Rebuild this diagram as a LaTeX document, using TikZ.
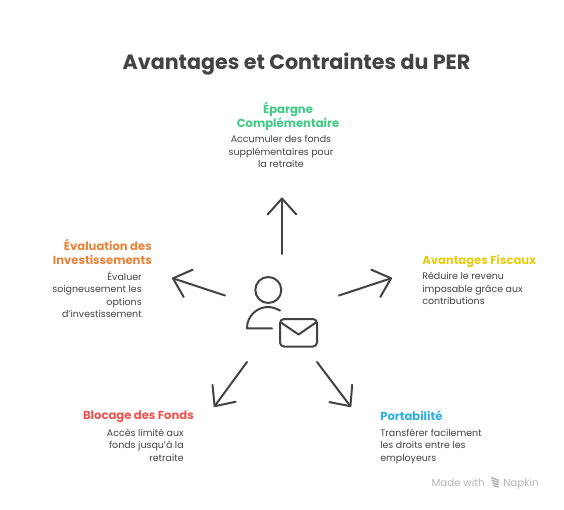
\documentclass[tikz,border=0pt]{standalone}
\usepackage{fontspec}
\setmainfont{Poppins}
\usepackage{xcolor}
\usetikzlibrary{arrows.meta,positioning}
\definecolor{perink}{HTML}{434343}
\definecolor{pergreen}{HTML}{3DCB85}
\definecolor{peryellow}{HTML}{E6CB12}
\definecolor{perorange}{HTML}{E8833A}
\definecolor{perred}{HTML}{EF5350}
\definecolor{perblue}{HTML}{2FAEE3}
\definecolor{pergrey}{HTML}{B4B4B4}
\newcommand{\pxfont}[2]{\fontsize{#1}{#2}\selectfont}

\begin{document}
\begin{tikzpicture}[
  x=0.75pt,y=-0.75pt,
  title/.style={inner sep=0pt,text=perink,font=\pxfont{15.5}{18}\bfseries},
  head/.style={inner sep=0pt,font=\pxfont{8.7}{10.4}\bfseries},
  body/.style={inner sep=0pt,text=perink,font=\pxfont{7.1}{9.4}},
  arr/.style={-{Straight Barb[length=12pt,width=21.5pt,line width=1.5pt,round]},line width=1.5pt,color=perink,line cap=round},
  icon/.style={line width=1.5pt,color=perink,line cap=round,line join=round}
]
\useasboundingbox (0,0) rectangle (564,510);
\node[title] (ttl) at (296.5,64) {Avantages et Contraintes du PER};

\node[head,text=pergreen,align=center] (eparhead) at (288,116) {Épargne\\Complémentaire};
\node[body,align=center,anchor=north] (eparbody) at (281,135) {Accumuler des fonds\\supplémentaires pour\\la retraite};

\node[head,text=peryellow,anchor=west] (fischead) at (422,261) {Avantages Fiscaux};
\node[body,align=left,anchor=north west] (fiscbody) at (422,272) {Réduire le revenu\\imposable grâce aux\\contributions};

\node[head,text=perorange,align=right,anchor=east] (evalhead) at (152,252) {Évaluation des\\Investissements};
\node[body,align=right,anchor=north east] (evalbody) at (142,271) {Évaluer\\soigneusement les\\options\\d'investissement};

\node[head,text=perred,anchor=east] (blochead) at (194,417) {Blocage des Fonds};
\node[body,align=right,anchor=north east] (blocbody) at (184,428.5) {Accès limité aux\\fonds jusqu'à la\\retraite};

\node[head,text=perblue,anchor=west] (porthead) at (380,416) {Portabilité};
\node[body,align=left,anchor=north west] (portbody) at (380,428.5) {Transférer facilement\\les droits entre les\\employeurs};

% arrows around the person
\coordinate (upa) at (282,254);
\coordinate (upb) at (282,197.5);
\coordinate (fisa) at (339,295.5);
\coordinate (fisb) at (392,278);
\coordinate (evaa) at (225,295.5);
\coordinate (evab) at (172,278);
\coordinate (bloa) at (247,362);
\coordinate (blob) at (214,407);
\coordinate (pora) at (317,362);
\coordinate (porb) at (351,407);
\draw[arr] (upa) -- (upb);
\draw[arr] (fisa) -- (fisb);
\draw[arr] (evaa) -- (evab);
\draw[arr] (bloa) -- (blob);
\draw[arr] (pora) -- (porb);

% person and envelope
\draw[icon] (268.3,290) circle[radius=13];
\draw[icon] (272,328.3) -- (247,328.3) .. controls (247,315) and (258,307) .. (268,307) .. controls (272,307) and (276,308.5) .. (280,310.5);
\draw[icon,rounded corners=3pt] (280,319) rectangle (317,346.5);
\draw[icon] (281,322.5) -- (298.5,334.5) -- (316,322.5);

% footer
\node[inner sep=0pt,text=pergrey,anchor=base east,font=\pxfont{7.7}{10}] (madewith) at (485,486) {Made with};
\node[inner sep=0pt,text=pergrey,anchor=base west,font=\pxfont{7.7}{10}] (napkin) at (503,486) {Napkin};
\foreach \i in {0,1,2,3}
  \draw[pergrey,line width=1.1pt] (491+\i*0.6,477.5+\i*2.6) -- (499-\i*0.2,480.5+\i*2.2);
\end{tikzpicture}
\end{document}
